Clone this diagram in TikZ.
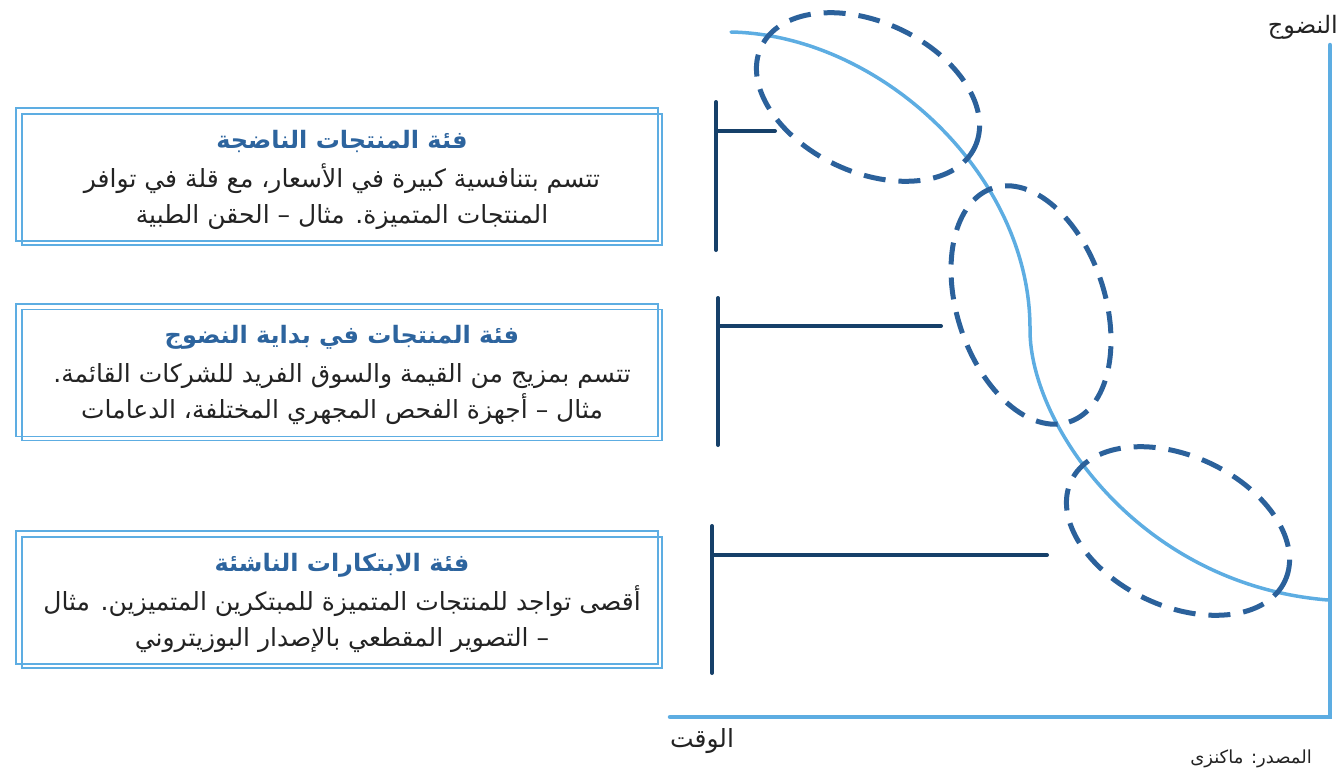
\documentclass[tikz,border=0pt]{standalone}
\usepackage{fontspec}
\usetikzlibrary{positioning,shapes.geometric}
\newfontfamily\arabicfont[Script=Arabic]{DejaVu Sans}
\TeXXeTstate=1
\definecolor{curveblue}{RGB}{93,173,226}
\definecolor{ringblue}{RGB}{43,97,155}
\definecolor{barnavy}{RGB}{22,64,105}
\definecolor{titleblue}{RGB}{45,100,158}
\definecolor{textgray}{RGB}{35,35,35}
\newcommand\rl[1]{\beginR #1\endR}
\newcommand\cathead[1]{{\color{titleblue}\bfseries\fontsize{24}{24}\selectfont\rl{#1}}}

\begin{document}
\begin{tikzpicture}[x=1pt, y=-1pt,
                    every node/.style = {font=\arabicfont, text=textgray, inner sep=0pt},
                    axis/.style = {draw=curveblue, line width=4.5pt, line cap=round},
                    trend/.style = {draw=curveblue, line width=3.5pt, line cap=round},
                    ring/.style = {ellipse, draw=ringblue, line width=5pt,
                      dash pattern=on 22pt off 13pt},
                    bar/.style = {draw=barnavy, line width=4pt, line cap=round},
                    frameline/.style = {draw=curveblue, line width=1.6pt},
                    catbox/.style = {rectangle, frameline, align=center,
                      minimum width=640pt, minimum height=131pt,
                      font=\arabicfont\fontsize{25}{36}\selectfont}]
\useasboundingbox (0,0) rectangle (1342,771);

% axes
\coordinate (origin) at (1330,717);
\coordinate (ytop) at (1330,45);
\coordinate (xend) at (670,717);
\draw[axis] (ytop) -- (origin) -- (xend);
\node[anchor=east, font=\arabicfont\fontsize{24}{24}\selectfont] (ylab) at (1338,27) {\rl{النضوج}};
\node[font=\arabicfont\fontsize{25}{25}\selectfont] (xlab) at (702,741) {\rl{الوقت}};
\node[font=\arabicfont\fontsize{18}{18}\selectfont] (source) at (1251,759) {\rl{المصدر: ماكنزى}};

% maturity curve
\coordinate (c0) at (731,32);
\coordinate (c1) at (1030,330);
\coordinate (c2) at (1328,600);
\draw[trend] (c0) .. controls (880,35) and (1031,175) .. (c1)
                  .. controls (1030,425) and (1140,585) .. (c2);

% dashed rings
\node[ring, minimum width=236pt, minimum height=150pt, rotate=-25] (ringmature) at (868,97) {};
\node[ring, minimum width=246pt, minimum height=148pt, rotate=-72] (ringearly) at (1031,305) {};
\node[ring, minimum width=236pt, minimum height=150pt, rotate=-25] (ringnew) at (1178,531) {};

% brackets
\coordinate (b1a) at (716,102);
\coordinate (b1b) at (716,250);
\coordinate (b1c) at (775,131);
\draw[bar] (b1a) -- (b1b) (b1a |- b1c) -- (b1c);
\coordinate (b2a) at (718,298);
\coordinate (b2b) at (718,445);
\coordinate (b2c) at (941,326);
\draw[bar] (b2a) -- (b2b) (b2a |- b2c) -- (b2c);
\coordinate (b3a) at (712,526);
\coordinate (b3b) at (712,673);
\coordinate (b3c) at (1047,555);
\draw[bar] (b3a) -- (b3b) (b3a |- b3c) -- (b3c);

% category boxes
\node[catbox] (mature) at (342,179.5) {\cathead{فئة المنتجات الناضجة}\\[3pt]
  \rl{تتسم بتنافسية كبيرة في الأسعار، مع قلة في توافر}\\
  \rl{المنتجات المتميزة. مثال – الحقن الطبية}};
\draw[frameline] ([shift={(-5,-5)}]mature.north west) rectangle ([shift={(-5,-5)}]mature.south east);

\node[catbox] (early) at (342,375) {\cathead{فئة المنتجات في بداية النضوج}\\[3pt]
  \rl{تتسم بمزيج من القيمة والسوق الفريد للشركات القائمة.}\\
  \rl{مثال – أجهزة الفحص المجهري المختلفة، الدعامات}};
\draw[frameline] ([shift={(-5,-5)}]early.north west) rectangle ([shift={(-5,-5)}]early.south east);

\node[catbox] (emerging) at (342,602.5) {\cathead{فئة الابتكارات الناشئة}\\[3pt]
  \rl{أقصى تواجد للمنتجات المتميزة للمبتكرين المتميزين. مثال}\\
  \rl{– التصوير المقطعي بالإصدار البوزيتروني}};
\draw[frameline] ([shift={(-5,-5)}]emerging.north west) rectangle ([shift={(-5,-5)}]emerging.south east);
\end{tikzpicture}
\end{document}
